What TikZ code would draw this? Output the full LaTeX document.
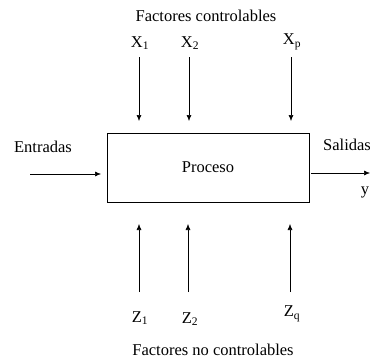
\documentclass[tikz,border=0pt]{standalone}
\usepackage{fontspec}
\setmainfont{Liberation Serif}
\usetikzlibrary{arrows.meta}

\begin{document}
\begin{tikzpicture}[x=1pt,y=-1pt,
			every node/.style={font=\fontsize{16.5}{19}\selectfont},
			flecha/.style={-{Latex[length=6pt,width=5pt]},line width=0.6pt},
			caja/.style={draw,line width=0.6pt,minimum width=202pt,minimum height=69pt}]
			\useasboundingbox (0,0) rectangle (370,360);
			\node[caja] (proc) at (208,167.5) {Proceso};
			% factores controlables
			\node (fc) at (206,16) {Factores controlables};
			\node (x1) at (140,43) {X\textsubscript{1}};
			\node (x2) at (190,43) {X\textsubscript{2}};
			\node (xp) at (292,42) {X\textsubscript{p}};
			\foreach \n/\x in {x1/139,x2/189,xp/291} {
				\coordinate (\n a) at (\x,57);
				\coordinate (\n b) at (\x,121);
				\draw[flecha] (\n a) -- (\n b);
			}
			% factores no controlables
			\node (z1) at (140,318) {Z\textsubscript{1}};
			\node (z2) at (190,319) {Z\textsubscript{2}};
			\node (zq) at (292,314) {Z\textsubscript{q}};
			\node (fnc) at (213,350) {Factores no controlables};
			\foreach \n/\x in {z1/139,z2/188,zq/290} {
				\coordinate (\n a) at (\x,292);
				\coordinate (\n b) at (\x,224);
				\draw[flecha] (\n a) -- (\n b);
			}
			% entradas y salidas
			\node (ent) at (43,147) {Entradas};
			\coordinate (enta) at (30,174);
			\coordinate (entb) at (101,174);
			\draw[flecha] (enta) -- (entb);
			\node (sal) at (347,145) {Salidas};
			\node (y) at (365,192) {y};
			\coordinate (sala) at (311,173);
			\coordinate (salb) at (370,173);
			\draw[flecha] (sala) -- (salb);
\end{tikzpicture}
\end{document}
